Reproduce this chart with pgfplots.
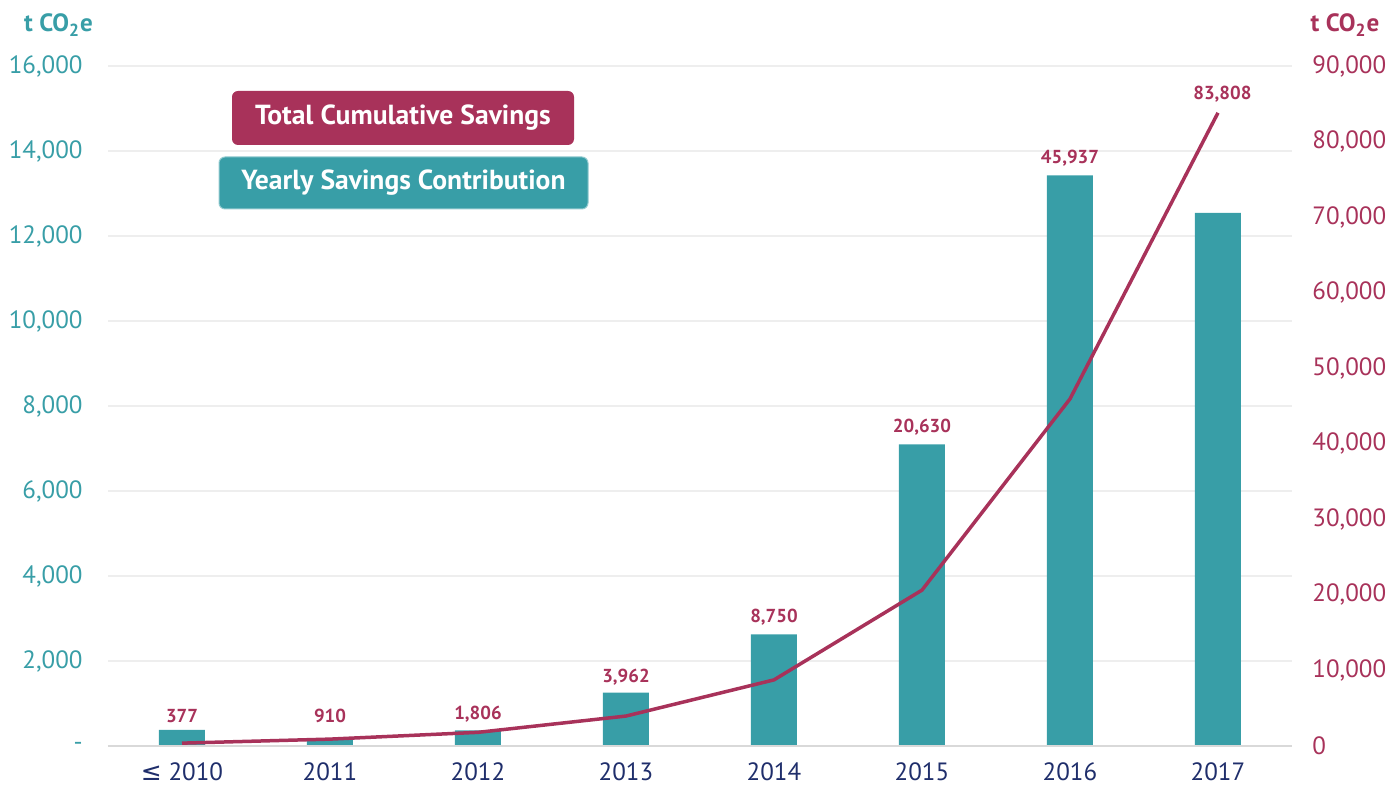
\documentclass[border=0pt]{standalone}
\usepackage{pgfplots}
\pgfplotsset{compat=1.18}
\usepackage{fontspec}
\setmainfont{PT Sans}
\newfontfamily\symfont{DejaVu Sans}
\definecolor{tealbar}{HTML}{389EA7}
\definecolor{magline}{HTML}{A8325A}
\definecolor{navytick}{HTML}{1F2E6B}
\definecolor{gridgray}{HTML}{EEEEEE}
\definecolor{basegray}{HTML}{D9D9D9}

\begin{document}
\begin{tikzpicture}
\path[use as bounding box] (-54pt,-20pt) rectangle (640pt,373pt);
% yearly contribution (left axis)
\begin{axis}[
  at={(0pt,0pt)}, anchor=south west,
  scale only axis, width=592pt, height=340pt,
  xmin=-0.5, xmax=7.5, ymin=0, ymax=16000,
  axis line style={draw=none},
  major tick style={draw=none},
  scaled y ticks=false,
  xtick={0,...,7},
  xticklabels={{{\symfont ≤} 2010},2011,2012,2013,2014,2015,2016,2017},
  xticklabel style={font=\fontsize{12.5}{14}\selectfont, text=navytick,
    anchor=north, inner sep=0pt, yshift=-8pt},
  ytick={0,2000,...,16000},
  yticklabels={{-\hspace{5.5pt}},{2,000},{4,000},{6,000},{8,000},{10,000},{12,000},{14,000},{16,000}},
  yticklabel style={font=\fontsize{12.5}{14}\selectfont, text=tealbar,
    anchor=east, inner sep=0pt, xshift=-12.5pt},
  ymajorgrids,
  grid style={gridgray, line width=1.3pt},
  clip=false,
]
  \addplot[ybar, bar width=23pt, fill=tealbar, draw=none] coordinates {
    (0,377) (1,150) (2,370) (3,1257) (4,2628) (5,7099) (6,13428) (7,12541)
  };
  \draw[basegray, line width=1.2pt] (axis cs:-0.5,0) -- (axis cs:7.5,0);
  \begin{scope}[every node/.style={font=\bfseries\fontsize{9.4}{11}\selectfont, text=magline}]
    \node at (axis cs:0,706) {377};
    \node at (axis cs:1,706) {910};
    \node at (axis cs:2,753) {1,806};
    \node at (axis cs:3,1624) {3,962};
    \node at (axis cs:4,3035) {8,750};
    \node at (axis cs:5,7506) {20,630};
    \node at (axis cs:6,13835) {45,937};
    \node at (axis cs:7.03,15341) {83,808};
  \end{scope}
\end{axis}
% cumulative savings (right axis)
\begin{axis}[
  at={(0pt,0pt)}, anchor=south west,
  scale only axis, width=592pt, height=340pt,
  xmin=-0.5, xmax=7.5, ymin=0, ymax=90000,
  axis line style={draw=none},
  major tick style={draw=none},
  scaled y ticks=false,
  xtick=\empty,
  ytick={0,10000,...,90000},
  yticklabels={0,{10,000},{20,000},{30,000},{40,000},{50,000},{60,000},{70,000},{80,000},{90,000}},
  yticklabel pos=right,
  yticklabel style={font=\fontsize{12.5}{14}\selectfont, text=magline,
    anchor=west, inner sep=0pt, xshift=10pt},
  clip=false,
]
  \addplot[magline, line width=1.75pt, mark=none] coordinates {
    (0,377) (1,910) (2,1806) (3,3962) (4,8750) (5,20630) (6,45937) (7,83808)
  };
\end{axis}
% axis titles
\node[font=\bfseries\fontsize{12.5}{14}\selectfont, text=tealbar] at (-24.75pt,360.5pt) {t CO\textsubscript{2}e};
\node[font=\bfseries\fontsize{12.5}{14}\selectfont, text=magline] at (618.5pt,360.5pt) {t CO\textsubscript{2}e};
% legend boxes
\node[fill=magline, rounded corners=3pt, minimum width=171pt, minimum height=27pt,
  text=white, font=\bfseries\fontsize{13.8}{16}\selectfont] at (147.5pt,314pt) {Total Cumulative Savings};
\node[fill=tealbar, draw=tealbar!55!white, line width=0.5pt, rounded corners=3pt, minimum width=184.5pt, minimum height=26pt,
  text=white, font=\bfseries\fontsize{13.8}{16}\selectfont] at (147.75pt,281.5pt) {Yearly Savings Contribution};
\end{tikzpicture}
\end{document}
